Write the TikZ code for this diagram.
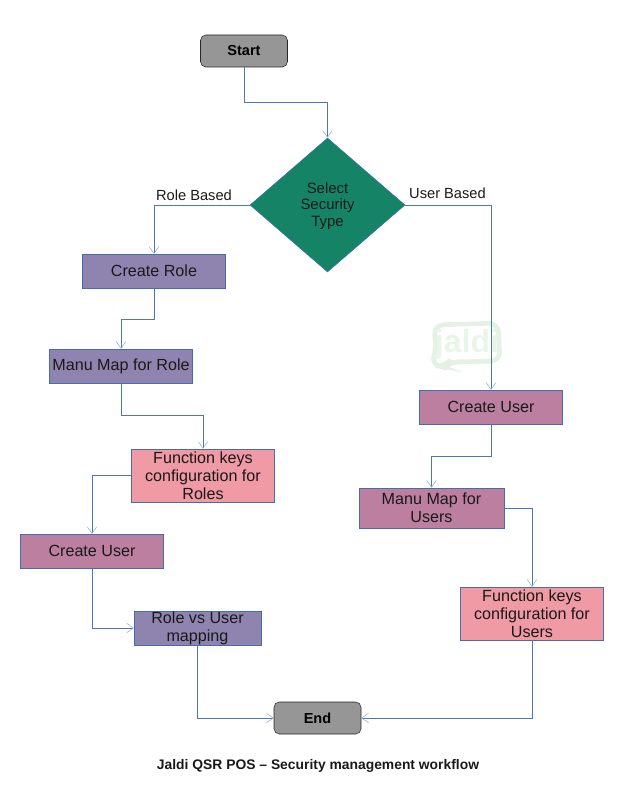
\documentclass[tikz,border=0pt]{standalone}
\usepackage{fontspec}
\setmainfont{Liberation Sans}
\usetikzlibrary{arrows.meta,shapes.geometric}
\definecolor{linecol}{HTML}{4A78B0}
\definecolor{tipcol}{HTML}{8FAAD0}
\definecolor{boxline}{HTML}{3F6FAE}
\definecolor{purplebox}{HTML}{8F84AF}
\definecolor{pinkbox}{HTML}{BD7F9F}
\definecolor{salmonbox}{HTML}{EF9AA5}
\definecolor{greybox}{HTML}{969696}
\definecolor{greendec}{HTML}{158466}
\definecolor{markcol}{HTML}{E4F1E4}
\definecolor{marktext}{HTML}{EAF5EA}
\tikzset{
  base/.style={draw=boxline,inner sep=0pt,align=center,font=\fontsize{12.1}{13.6}\selectfont,text=black!90},
  purple/.style={base,fill=purplebox},
  pink/.style={base,fill=pinkbox},
  salmon/.style={base,fill=salmonbox},
  term/.style={draw=black!85,fill=greybox,rounded corners=4pt,minimum width=65.25pt,minimum height=24pt,inner sep=0pt,font=\fontsize{10.9}{12}\selectfont\bfseries},
  flow/.style={draw=linecol,-{Straight Barb[length=5pt,width=7pt,color=tipcol]}},
  lab/.style={font=\fontsize{11}{12}\selectfont,text=black!90}
}
\begin{document}
\begin{tikzpicture}[x=0.75pt,y=-0.75pt]
  \useasboundingbox (0,0) rectangle (624,792);
  % watermark
  \draw[markcol,line width=3.5pt,rounded corners=7pt] (434,325) -- (498,323) -- (500,361) -- (449,362) -- (445,367) -- (431,365) -- (436,352) -- cycle;
  \node[font=\fontsize{24}{24}\selectfont\bfseries,text=marktext,inner sep=0pt] (mark) at (467,344) {jaldi};
  % top
  \node[term] (start) at (244,51) {\raisebox{0.6pt}{Start}};
  \node[diamond,draw=boxline,fill=greendec,minimum width=116.25pt,minimum height=100.5pt,inner sep=0pt,align=center,font=\fontsize{11.2}{12.4}\selectfont,text=black!90] (sel) at (327.5,205) {\rule{0pt}{9.6pt}Select\\Security\\Type};
  % left branch
  \node[purple,minimum width=107.6pt,minimum height=25.2pt] (role) at (154,271) {Create Role};
  \node[purple,minimum width=107.6pt,minimum height=25.2pt] (menurole) at (121,366) {\raisebox{-0.6pt}{Manu Map for Role}};
  \node[salmon,minimum width=107.6pt,minimum height=39.6pt] (funcrole) at (203,475.5) {Function keys\\configuration for\\Roles};
  \node[pink,minimum width=107.6pt,minimum height=25.2pt] (userl) at (92,551) {\raisebox{-0.6pt}{Create User}};
  \node[purple,minimum width=95pt,minimum height=25.2pt] (map) at (197.5,628) {Role vs User\\mapping};
  % right branch
  \node[pink,minimum width=107.6pt,minimum height=25.2pt] (userr) at (491,407) {Create User};
  \node[pink,minimum width=108.4pt,minimum height=30pt] (menuuser) at (431.5,508) {Manu Map for\\Users};
  \node[salmon,minimum width=107.6pt,minimum height=39.6pt] (funcuser) at (532,613.5) {Function keys\\configuration for\\Users};
  \node[term] (end) at (317.5,718) {End};
  % labels
  \node[lab] (rolelab) at (194,195) {Role Based};
  \node[lab] (userlab) at (447.5,193) {User Based};
  \node[font=\fontsize{10.4}{12}\selectfont\bfseries,text=black!90] (title) at (318,765.5) {Jaldi QSR POS – Security management workflow};
  % connectors
  \draw[flow] (start.south) -- ++(0,35) -| (sel.north);
  \draw[flow] (sel.west) -| (role.north);
  \draw[flow] (sel.east) -| (userr.north);
  \draw[flow] (role.south) -- ++(0,31) -| (menurole.north);
  \draw[flow] (menurole.south) -- ++(0,32) -| (funcrole.north);
  \draw[flow] (funcrole.west) -| (userl.north);
  \draw[flow] (userl.south) |- (map.west);
  \draw[flow] (map.south) |- (end.west);
  \draw[flow] (userr.south) -- ++(0,32) -| (menuuser.north);
  \draw[flow] (menuuser.east) -| (funcuser.north);
  \draw[flow] (funcuser.south) |- (end.east);
\end{tikzpicture}
\end{document}
